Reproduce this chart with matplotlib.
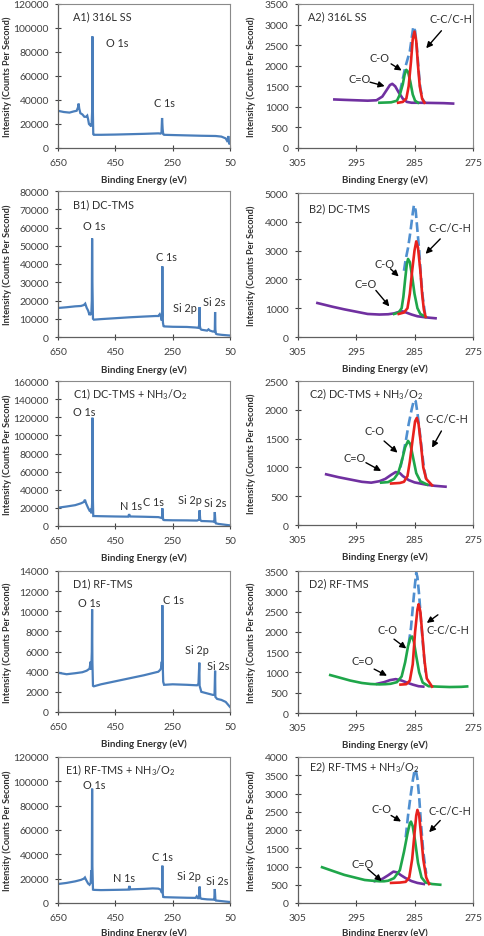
import matplotlib
matplotlib.use('Agg')
import matplotlib.pyplot as plt

plt.rcParams['font.family'] = ['Lato', 'DejaVu Sans']
plt.rcParams['mathtext.fontset'] = 'custom'
plt.rcParams['mathtext.rm'] = 'Lato'
plt.rcParams['mathtext.it'] = 'Lato:italic'
plt.rcParams['mathtext.bf'] = 'Lato:bold'

# ---- survey spectra: (binding energy eV, counts per second) ----
a1_survey = [(650, 31000), (630, 30000), (610, 29500), (595, 30500), (585, 31000), (580, 34000),
             (578, 37000), (576, 33000), (572, 29000), (565, 28000), (558, 26000), (552, 26000),
             (548, 27000), (545, 24000), (542, 20000), (538, 19000), (535, 20000), (533, 18000),
             (531, 30000), (530, 93000), (529, 40000), (527, 11500), (525, 11000), (500, 11000),
             (450, 11200), (400, 11500), (350, 11800), (300, 12200), (292, 12000), (289, 13000),
             (287, 25000), (285, 16000), (283, 11500), (280, 11000), (250, 10800), (200, 10500),
             (150, 10200), (100, 10000), (80, 9500), (65, 8000), (58, 5000), (56, 10000),
             (54, 6000), (52, 3000), (50, 4000)]
b1_survey = [(650, 15900), (620, 16300), (590, 16800), (570, 17000), (560, 17500), (555, 18300),
             (550, 16000), (545, 14500), (540, 12000), (536, 13500), (534, 12000), (532, 20000),
             (531, 54000), (530, 30000), (528, 10000), (525, 9500), (500, 9800), (450, 10300),
             (400, 10800), (350, 11200), (310, 11500), (300, 11500), (295, 12500), (292, 11500),
             (290, 10500), (288, 9000), (287, 12000), (286, 38700), (285, 14000), (284, 8000),
             (282, 6000), (280, 5800), (250, 5600), (200, 5500), (170, 5200), (160, 5000),
             (157, 7000), (156, 16400), (155, 6000), (153, 4500), (150, 4000), (130, 3500),
             (125, 4200), (120, 3500), (110, 3000), (105, 3000), (103, 4000), (102, 13700),
             (101, 4000), (99, 1800), (95, 1500), (80, 1200), (65, 1000), (50, 800)]
c1_survey = [(650, 20200), (620, 21500), (590, 23000), (570, 25000), (560, 26500), (556, 29000),
             (552, 25000), (545, 20000), (540, 17000), (536, 18000), (533, 14000), (531, 25000),
             (530, 119500), (529, 40000), (527, 11000), (500, 10800), (450, 10500), (405, 10300),
             (402, 13000), (398, 10500), (350, 10200), (300, 9800), (292, 9200), (289, 8800),
             (287, 9000), (286, 19500), (285, 12000), (283, 7000), (280, 6500), (250, 6300),
             (200, 6200), (165, 6000), (158, 7000), (156, 17300), (154, 7000), (150, 5500),
             (130, 5300), (110, 5000), (105, 4500), (103, 15400), (101, 5000), (99, 2900),
             (90, 2300), (70, 1500), (50, 700)]
d1_survey = [(650, 3900), (620, 3750), (590, 3850), (565, 3950), (550, 4100), (540, 4300),
             (536, 5000), (534, 4200), (532, 6000), (531, 10200), (530, 5000), (528, 2600),
             (525, 2550), (500, 2750), (450, 3050), (400, 3350), (350, 3650), (300, 4000),
             (293, 4200), (290, 4400), (288, 5000), (287, 4300), (286, 10600), (285, 5000),
             (283, 3000), (280, 2700), (250, 2750), (200, 2700), (165, 2650), (160, 2800),
             (157, 4900), (156, 2600), (150, 2000), (130, 1850), (110, 1700), (104, 1700),
             (102, 4100), (101, 1500), (95, 1300), (80, 1200), (65, 1000), (50, 500)]
e1_survey = [(650, 15600), (620, 16500), (590, 17800), (570, 19000), (560, 20000), (556, 21000),
             (552, 19000), (545, 16000), (540, 15000), (536, 16500), (534, 27000), (532, 20000),
             (531, 94000), (530, 30000), (528, 11000), (525, 10800), (500, 10600), (450, 10800),
             (404, 11000), (401, 14000), (398, 11200), (350, 11600), (320, 12000), (300, 11800),
             (292, 11000), (289, 9000), (287, 8500), (286, 30700), (285, 9000), (283, 5000),
             (280, 4800), (250, 4600), (200, 4300), (170, 4200), (166, 5500), (162, 4000),
             (158, 4000), (156, 13500), (154, 4500), (150, 3500), (130, 3000), (110, 2800),
             (105, 2700), (103, 11500), (101, 3000), (99, 2000), (90, 1800), (70, 1300), (50, 800)]

# ---- C 1s high resolution: components and envelope ----
a2_co2 = [(298.7, 1180), (297, 1170), (295, 1160), (293, 1150), (291.5, 1160), (290.5, 1250),
          (289.8, 1400), (289.2, 1530), (288.8, 1560), (288.3, 1500), (287.7, 1350), (287.0, 1200),
          (286.3, 1120), (285.5, 1100), (284, 1100), (282, 1095), (280, 1090), (278.4, 1080)]
a2_co = [(291.0, 1100), (289, 1110), (288, 1150), (287.5, 1300), (287.0, 1550), (286.7, 1780),
         (286.4, 1900), (286.1, 1850), (285.7, 1600), (285.3, 1300), (284.9, 1150), (284.4, 1100)]
a2_cc = [(287.8, 1100), (287, 1120), (286.4, 1200), (286.0, 1500), (285.6, 2100), (285.3, 2650),
         (285.0, 2830), (284.7, 2600), (284.4, 2000), (284.1, 1500), (283.7, 1200), (283.3, 1100)]
a2_env = [(287.5, 1350), (287.0, 1680), (286.6, 1950), (286.2, 2150), (285.8, 2350), (285.5, 2650),
          (285.2, 2950), (284.9, 2850), (284.6, 2450), (284.3, 1900), (284.0, 1450), (283.6, 1180),
          (283.2, 1100)]

b2_co2 = [(301.6, 1180), (299, 1050), (297, 960), (295, 880), (293, 800), (291, 780), (289.5, 790),
          (288.5, 820), (287.5, 880), (287.0, 890), (286.3, 840), (285.5, 780), (284.5, 720),
          (283, 680), (281.4, 650)]
b2_co = [(288.5, 800), (287.7, 850), (287.2, 1000), (286.9, 1400), (286.6, 2000), (286.3, 2550),
         (286.1, 2710), (285.8, 2600), (285.4, 2100), (285.0, 1500), (284.5, 1000), (284.0, 800),
         (283.1, 700)]
b2_cc = [(287.7, 800), (286.8, 850), (286.2, 1000), (285.8, 1500), (285.4, 2300), (285.0, 3000),
         (284.7, 3320), (284.4, 3100), (284.0, 2300), (283.7, 1500), (283.4, 950), (283.1, 700)]
b2_env = [(286.8, 2300), (286.5, 2700), (286.1, 3100), (285.7, 3650), (285.3, 4300), (285.1, 4580),
          (284.8, 4400), (284.5, 3700), (284.2, 3000), (283.9, 2100), (283.6, 1400), (283.2, 800)]

c2_co2 = [(300.1, 880), (298, 830), (296, 790), (294, 750), (292.4, 735), (291, 760), (290, 800),
          (289, 870), (288.2, 920), (287.5, 900), (287, 850), (286, 780), (285, 740), (284, 720),
          (283, 700), (281.5, 680), (279.7, 665)]
c2_co = [(290.7, 735), (289.5, 745), (288.5, 800), (287.8, 900), (287.2, 1100), (286.6, 1350),
         (286.1, 1460), (285.7, 1400), (285.2, 1150), (284.7, 900), (284, 760), (282.8, 700)]
c2_cc = [(289.0, 720), (287.5, 730), (286.8, 750), (286.2, 850), (285.8, 1100), (285.3, 1500),
         (284.9, 1800), (284.6, 1860), (284.3, 1750), (283.9, 1400), (283.5, 1000), (283, 800),
         (282, 690)]
c2_env = [(287.4, 1000), (287.0, 1200), (286.5, 1450), (286.0, 1750), (285.5, 2000), (285.1, 2170),
          (284.8, 2150), (284.5, 1950), (284.2, 1700), (283.8, 1350), (283.4, 1000), (283.0, 800)]

d2_co = [(299.4, 935), (298, 880), (296, 800), (294, 740), (292.5, 715), (291, 705), (290, 710),
         (289.1, 720), (288, 760), (287.2, 900), (286.6, 1250), (286.1, 1650), (285.7, 1850),
         (285.4, 1885), (285.1, 1750), (284.7, 1400), (284.2, 1000), (283.6, 750), (282.6, 660),
         (281, 650), (279, 640), (277, 645), (276, 655)]
d2_co2 = [(291.4, 720), (290.2, 760), (289.2, 810), (288.2, 835), (287.2, 800), (286.3, 750),
          (285.3, 700), (284.3, 660), (283.5, 650)]
d2_cc = [(287.4, 700), (286.4, 710), (285.8, 800), (285.3, 1200), (284.9, 2000), (284.5, 2550),
         (284.3, 2680), (284.0, 2500), (283.7, 2000), (283.3, 1300), (282.9, 850), (282.0, 650)]
d2_env = [(286.0, 1700), (285.6, 2100), (285.2, 2750), (284.9, 3200), (284.7, 3460), (284.5, 3350),
          (284.2, 2900), (283.9, 2300), (283.5, 1600), (283.1, 1000)]

e2_co = [(300.8, 980), (299, 880), (297, 770), (295, 690), (293.5, 630), (292.4, 613), (291, 595),
         (290.2, 595), (289.5, 610), (288.5, 680), (287.5, 900), (286.8, 1400), (286.2, 1900),
         (285.8, 2180), (285.6, 2230), (285.3, 2100), (284.9, 1700), (284.4, 1100), (283.8, 700),
         (283.1, 560), (282, 520), (280.6, 500)]
e2_co2 = [(291.8, 600), (290.5, 660), (289.5, 760), (288.6, 860), (288.0, 840), (287.3, 760),
          (286.5, 680), (285.5, 600), (284.5, 550), (283.4, 520)]
e2_cc = [(289.0, 550), (287.5, 560), (286.5, 580), (285.9, 700), (285.4, 1200), (285.0, 1900),
         (284.7, 2400), (284.5, 2550), (284.2, 2400), (283.9, 1900), (283.5, 1200), (283.0, 700),
         (282.5, 520)]
e2_env = [(286.5, 1800), (286.1, 2400), (285.7, 2900), (285.3, 3350), (285.0, 3620), (284.8, 3660),
          (284.5, 3400), (284.2, 2900), (283.9, 2200), (283.5, 1400), (283.0, 800)]

# ---- axis scales ----
survey_ymax = [120000, 80000, 160000, 14000, 120000]
survey_ystep = [20000, 10000, 20000, 2000, 20000]
hr_ymax = [3500, 5000, 2500, 3500, 4000]
hr_ystep = [500, 1000, 500, 500, 500]

# ---- labels ----
titles_left = ['A1) 316L SS', 'B1) DC-TMS', r'C1) DC-TMS + NH$_3$/O$_2$', 'D1) RF-TMS',
               r'E1) RF-TMS + NH$_3$/O$_2$']
titles_right = ['A2) 316L SS', 'B2) DC-TMS', r'C2) DC-TMS + NH$_3$/O$_2$', 'D2) RF-TMS',
                r'E2) RF-TMS + NH$_3$/O$_2$']
title_pos_left = [(598, 110300), (597, 73000), (597, 146400), (597, 12780), (627, 109800)]
title_pos_right = [(303.2, 3220), (303.0, 4503), (303.1, 2286), (303.1, 3197), (303.1, 3753)]

peak_labels = [
    [('O 1s', 482, 88100), ('C 1s', 315, 37700)],
    [('O 1s', 562, 61200), ('C 1s', 308, 44200), ('Si 2p', 248, 16100), ('Si 2s', 144, 19700)],
    [('O 1s', 597, 125800), ('N 1s', 435, 22100), ('C 1s', 352, 26500), ('Si 2p', 233, 29400),
     ('Si 2s', 141, 25700)],
    [('O 1s', 581, 10920), ('C 1s', 282, 11190), ('Si 2p', 207, 6160), ('Si 2s', 130, 4570)],
    [('O 1s', 562, 97200), ('N 1s', 458, 21100), ('C 1s', 323, 38400), ('Si 2p', 236, 22500),
     ('Si 2s', 134, 18400)],
]

# (label, text x, text y, arrow tail x, tail y, head x, head y)
arrow_labels = [
    [('C-C/C-H', 278.7, 3137, 280.4, 2850, 283.0, 2425),
     ('C-O', 291.0, 2207, 289.0, 2045, 287.2, 1884),
     ('C=O', 294.4, 1682, 292.6, 1600, 290.1, 1504)],
    [('C-C/C-H', 278.9, 3788, 280.6, 3406, 283.1, 2887),
     ('C-O', 290.2, 2540, 289.1, 2367, 287.7, 2101),
     ('C=O', 293.4, 1848, 291.6, 1617, 289.3, 1062)],
    [('C-C/C-H', 279.4, 1846, 280.4, 1632, 282.0, 1343),
     ('C-O', 291.9, 1632, 290.2, 1458, 287.9, 1256),
     ('C=O', 295.3, 1169, 293.3, 1082, 290.7, 938)],
    [('C-C/C-H', 279.2, 2060, 281.0, 2420, 282.9, 2220),
     ('C-O', 289.7, 2066, 288.5, 1820, 286.4, 1590),
     ('C=O', 293.9, 1287, 291.9, 1082, 289.7, 918)],
    [('C-C/C-H', 278.9, 2535, 280.6, 2261, 282.5, 1940),
     ('C-O', 290.7, 2581, 289.0, 2398, 287.3, 2233),
     ('C=O', 293.9, 1071, 293.0, 934, 290.6, 600)],
]

blue = '#4a7ebb'
red = '#e8211d'
green = '#1fa64a'
purple = '#7030a0'
env_blue = '#4f8fd0'
txt = '#303030'

W, H = 485, 937
rows_left = [(5, 149), (192, 338), (382, 527), (572, 713), (758, 904)]
rows_right = [(5, 149), (194, 338), (382, 526), (572, 714), (758, 904)]
# the bottom row label sits a little higher so it stays inside the figure
xlab_y = [-0.185, -0.185, -0.185, -0.185, -0.165]

fig = plt.figure(figsize=(W / 100, H / 100), dpi=100)


def style(ax, xticks, ymax, ystep, ylab_x, xl_y):
    yt = list(range(0, ymax + 1, ystep))
    ax.set_yticks(yt)
    ax.set_yticklabels([str(v) for v in yt])
    ax.set_xticks(xticks)
    ax.set_xticklabels([str(v) for v in xticks])
    ax.set_ylim(0, ymax)
    ax.tick_params(direction='inout', length=5, width=0.8, labelsize=7.5, colors='#404040')
    ax.tick_params(axis='x', pad=5)
    ax.tick_params(axis='y', pad=4)
    for s in ['top', 'right']:
        ax.spines[s].set_color('#8a8a8a')
        ax.spines[s].set_linewidth(0.8)
    for s in ['left', 'bottom']:
        ax.spines[s].set_color('#606060')
        ax.spines[s].set_linewidth(0.9)
    ax.set_xlabel('Binding Energy (eV)', fontsize=7, fontweight='bold', color=txt)
    ax.set_ylabel('Intensity (Counts Per Second)', fontsize=6.6, fontweight='bold', color=txt)
    ax.xaxis.set_label_coords(0.5, xl_y)
    ax.yaxis.set_label_coords(ylab_x, 0.5)


def xy(pairs):
    return [p[0] for p in pairs], [p[1] for p in pairs]


surveys = [a1_survey, b1_survey, c1_survey, d1_survey, e1_survey]
hr_sets = [
    [(a2_env, env_blue, '--'), (a2_co2, purple, '-'), (a2_co, green, '-'), (a2_cc, red, '-')],
    [(b2_env, env_blue, '--'), (b2_co2, purple, '-'), (b2_co, green, '-'), (b2_cc, red, '-')],
    [(c2_env, env_blue, '--'), (c2_co2, purple, '-'), (c2_co, green, '-'), (c2_cc, red, '-')],
    [(d2_env, env_blue, '--'), (d2_co2, purple, '-'), (d2_co, green, '-'), (d2_cc, red, '-')],
    [(e2_env, env_blue, '--'), (e2_co2, purple, '-'), (e2_co, green, '-'), (e2_cc, red, '-')],
]

for i in range(5):
    # survey panel
    t, b = rows_left[i]
    ax = fig.add_axes([58 / W, 1 - b / H, 172 / W, (b - t) / H])
    x, y = xy(surveys[i])
    ax.plot(x, y, color=blue, lw=1.6, solid_joinstyle='miter')
    ax.set_xlim(650, 50)
    style(ax, [650, 450, 250, 50], survey_ymax[i], survey_ystep[i], -0.265, xlab_y[i])
    ax.text(title_pos_left[i][0], title_pos_left[i][1], titles_left[i], fontsize=7.8,
            color=txt, ha='left', va='center')
    for lab, lx, ly in peak_labels[i]:
        ax.text(lx, ly, lab, fontsize=7.8, color=txt, ha='left', va='center')

    # high resolution C 1s panel
    t, b = rows_right[i]
    ax = fig.add_axes([297.5 / W, 1 - b / H, 175.5 / W, (b - t) / H])
    for pairs, c, ls in hr_sets[i]:
        x, y = xy(pairs)
        ax.plot(x, y, color=c, lw=1.9, ls=ls)
    ax.set_xlim(305, 275)
    style(ax, [305, 295, 285, 275], hr_ymax[i], hr_ystep[i], -0.235, xlab_y[i])
    ax.text(title_pos_right[i][0], title_pos_right[i][1], titles_right[i], fontsize=7.8,
            color=txt, ha='left', va='center')
    for lab, tx, ty, ax0, ay0, ax1, ay1 in arrow_labels[i]:
        ax.text(tx, ty, lab, fontsize=7.8, color=txt, ha='center', va='center')
        ax.annotate('', xy=(ax1, ay1), xytext=(ax0, ay0),
                    arrowprops=dict(arrowstyle='-|>', color='black', lw=1.0,
                                    mutation_scale=9, shrinkA=0, shrinkB=0))

fig.savefig('out.png', dpi=100)
